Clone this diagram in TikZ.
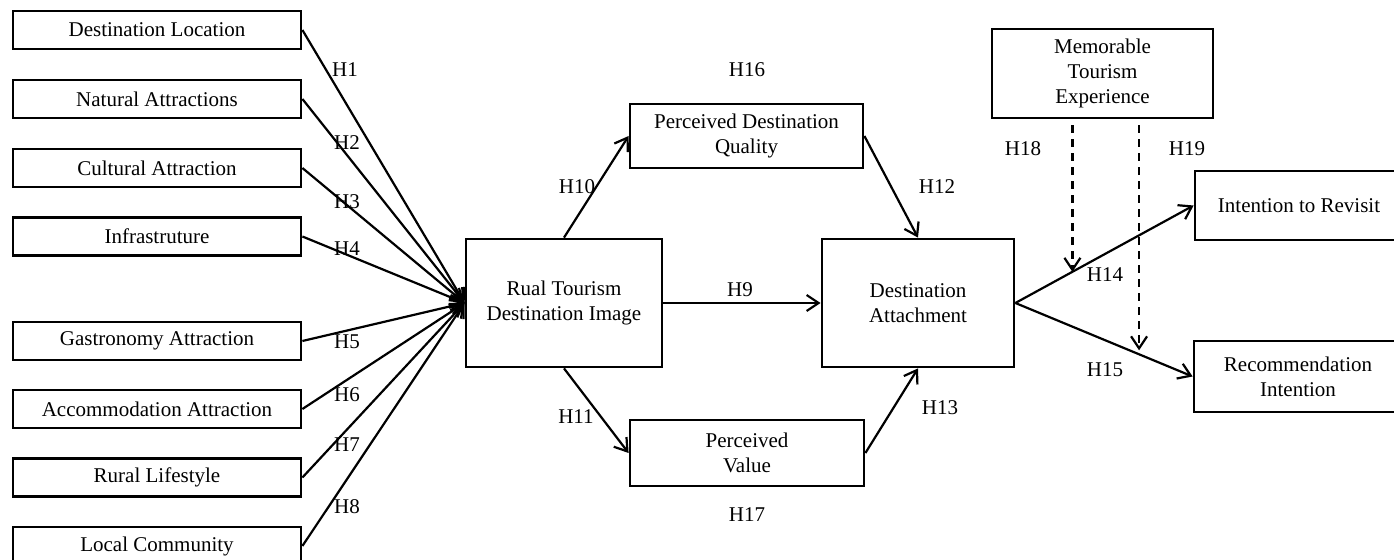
\documentclass[tikz,border=0pt]{standalone}
\usepackage{fontspec}
\setmainfont{Liberation Serif}
\usetikzlibrary{arrows.meta,calc}

\begin{document}
\begin{tikzpicture}[x=0.5pt,y=-0.5pt,
    font=\fontsize{10.5}{12.5}\selectfont,
    box/.style={draw,line width=1.4pt,align=center,inner sep=0pt},
    hyp/.style={inner sep=1pt},
    link/.style={line width=1.1pt,-{Straight Barb[length=6pt,width=8pt]}},
    moder/.style={link,dashed,dash pattern=on 4pt off 3pt}]
  \useasboundingbox (0,0) rectangle (1394,560);
  \clip (0,0) rectangle (1394,560);
  % antecedents of the destination image
  \node[box,minimum width=144pt,minimum height=19pt] (dl) at (157,30) {Destination Location};
  \node[box,minimum width=144pt,minimum height=19pt] (na) at (157,99) {Natural Attractions};
  \node[box,minimum width=144pt,minimum height=19pt] (ca) at (157,168) {Cultural Attraction};
  \node[box,minimum width=144pt,minimum height=19pt] (inf) at (157,236.5) {Infrastruture};
  \node[box,minimum width=144pt,minimum height=19pt] (ga) at (157,341) {Gastronomy Attraction};
  \node[box,minimum width=144pt,minimum height=19pt] (aa) at (157,409) {Accommodation Attraction};
  \node[box,minimum width=144pt,minimum height=19pt] (rl) at (157,477.5) {Rural Lifestyle};
  \node[box,minimum width=144pt,minimum height=19pt] (lc) at (157,546) {Local Community};
  % central constructs
  \node[box,minimum width=98pt,minimum height=64pt] (rtdi) at (564,303) {Rual Tourism\\Destination Image};
  \node[box,minimum width=116.5pt,minimum height=32pt] (pdq) at (746.5,136) {Perceived Destination\\Quality};
  \node[box,minimum width=117pt,minimum height=33pt] (pv) at (747,453) {Perceived\\Value};
  \node[box,minimum width=96pt,minimum height=64pt] (da) at (918,303) {Destination\\Attachment};
  % outcomes and moderator
  \node[box,minimum width=110.5pt,minimum height=44.5pt] (mte) at (1102.5,73.5) {Memorable\\Tourism\\Experience};
  \node[box,minimum width=104pt,minimum height=34.5pt] (itr) at (1299,205.5) {Intention to Revisit};
  \node[box,minimum width=104pt,minimum height=35.5pt] (ri) at (1298,376.5) {Recommendation\\Intention};
  % paths
  \foreach \src in {dl,na,ca,inf,ga,aa,rl,lc}
    \draw[link] (\src.east) -- (rtdi.west);
  \draw[link] (rtdi.north) -- (pdq.west);
  \draw[link] (rtdi.east) -- (da.west);
  \draw[link] (rtdi.south) -- (pv.west);
  \draw[link] (pdq.east) -- (da.north);
  \draw[link] (pv.east) -- (da.south);
  \draw[link] (da.east) -- (itr.west);
  \draw[link] (da.east) -- (ri.west);
  % moderating effects
  \coordinate (m1) at ($(da.east)!0.32!(itr.west)$);
  \coordinate (m2) at ($(da.east)!0.698!(ri.west)$);
  \draw[moder] ([yshift=-3pt]mte.south -| m1) -- (m1);
  \draw[moder,shorten >=2pt] ([yshift=-3pt]mte.south -| m2) -- (m2);
  % hypothesis labels
  \node[hyp] (h1) at (345,70) {H1};
  \node[hyp] (h2) at (347,143) {H2};
  \node[hyp] (h3) at (347,202) {H3};
  \node[hyp] (h4) at (347,249) {H4};
  \node[hyp] (h5) at (347,342) {H5};
  \node[hyp] (h6) at (347,395) {H6};
  \node[hyp] (h7) at (347,445) {H7};
  \node[hyp] (h8) at (347,507) {H8};
  \node[hyp] (h9) at (740,290) {H9};
  \node[hyp] (h10) at (577,187) {H10};
  \node[hyp] (h11) at (576,417) {H11};
  \node[hyp] (h12) at (937,187) {H12};
  \node[hyp] (h13) at (940,408) {H13};
  \node[hyp] (h14) at (1105,275) {H14};
  \node[hyp] (h15) at (1105,370) {H15};
  \node[hyp] (h16) at (747,70) {H16};
  \node[hyp] (h17) at (747,515) {H17};
  \node[hyp] (h18) at (1023,149) {H18};
  \node[hyp] (h19) at (1187,149) {H19};
\end{tikzpicture}
\end{document}
